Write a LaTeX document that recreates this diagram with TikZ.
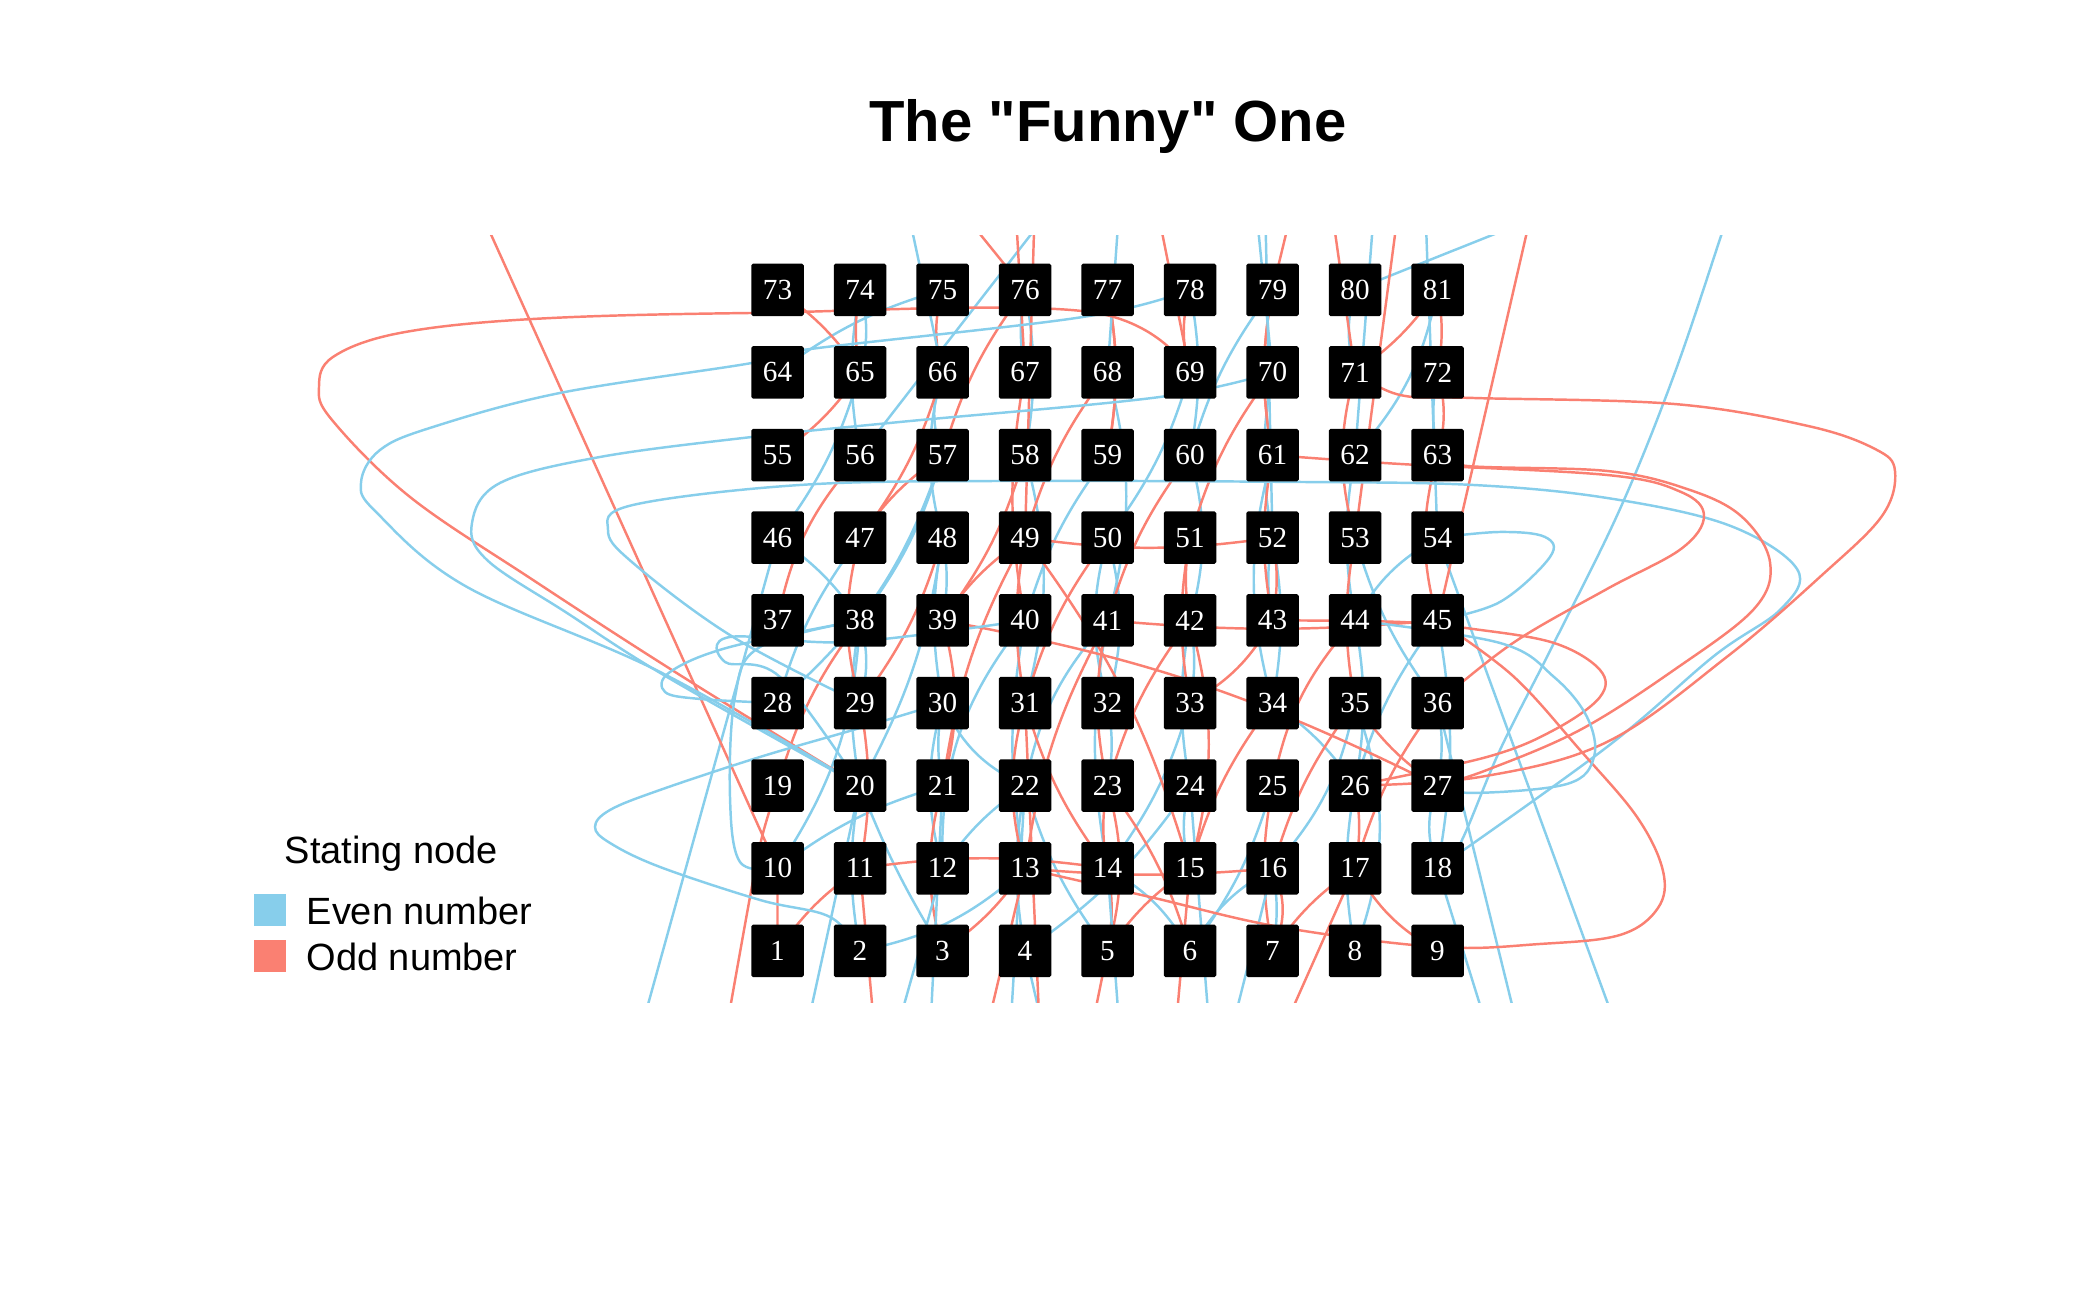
\documentclass[tikz,border=0pt]{standalone}
\usepackage{fontspec}
\setmainfont{Liberation Sans}
\newfontfamily\titlefont{Liberation Sans}[Ligatures=TeXOff]
\newfontfamily\numfont{Liberation Serif}
\usetikzlibrary{backgrounds}
\definecolor{evenblue}{HTML}{87CEEB}
\definecolor{oddred}{HTML}{FA8072}

\begin{document}
\begin{tikzpicture}[
    numbox/.style={rectangle, fill=black, rounded corners=0.5pt, minimum size=0.525cm, inner sep=0pt, text=white, font=\numfont\fontsize{8.3}{9}\selectfont},
    evenedge/.style={draw=evenblue, line width=0.7pt},
    oddedge/.style={draw=oddred, line width=0.7pt},
    keybox/.style={rectangle, minimum size=0.32cm, inner sep=0pt},
    legtext/.style={anchor=base west, inner sep=0pt, font=\fontsize{10.8}{12}\selectfont},
    loopedge/.style={smooth, tension=0.6}
]
\useasboundingbox (0,0) rectangle (21,12.97);

% grid of numbered nodes
\foreach \i in {1,...,81}{
    \pgfmathtruncatemacro{\col}{mod(\i-1,9)}
    \pgfmathtruncatemacro{\row}{div(\i-1,9)}
    \node[numbox] (n\i) at ({7.775+0.825*\col},{3.46+0.8265*\row}) {\i};
}

% title and legend
\node[anchor=base, font=\titlefont\bfseries\fontsize{16.5}{20}\selectfont] (title) at (11.08,11.55) {The "Funny" One};
\node[legtext] (legtitle) at (2.84,4.33) {Stating node};
\node[keybox, fill=evenblue] (keyeven) at (2.70,3.866) {};
\node[keybox, fill=oddred] (keyodd) at (2.70,3.406) {};
\node[legtext] (legeven) at (3.06,3.72) {Even number};
\node[legtext] (legodd) at (3.06,3.263) {Odd number};

\begin{scope}[on background layer]
\clip (0,2.94) rectangle (21,10.61);

% short edges inside the grid
\foreach \a/\b/\bd in {2/20/10, 2/13/-15, 4/22/10, 4/24/-10, 6/16/15, 6/25/-10, 8/26/10, 8/35/-20,
    10/38/-15, 10/21/10, 12/30/15, 12/40/20, 14/33/-10, 14/41/10, 16/35/-15, 16/7/10, 18/27/20,
    18/45/-10, 20/38/10, 20/48/-10, 22/41/15, 22/12/-10, 24/42/10, 24/15/-15, 26/45/10, 26/34/-10,
    28/47/10, 28/57/-15, 30/48/10, 30/22/-20, 32/50/15, 32/23/10, 34/52/-10, 34/61/15, 36/53/10,
    38/57/-10, 38/29/15, 40/59/10, 40/13/-10, 42/60/-15, 42/33/10, 44/62/10, 46/65/-10, 48/66/15,
    48/39/10, 50/69/-10, 50/32/15, 52/70/10, 52/43/-10, 56/74/10, 58/76/-10, 58/31/15, 60/79/10,
    62/81/-15, 64/75/10, 66/57/-20, 68/41/15, 72/63/-10, 74/65/15, 76/67/-10, 78/60/10, 80/71/-15,
    44/26/10, 22/5/-10, 36/27/10, 54/44/-15, 46/38/10, 30/21/-10, 14/6/15, 20/3/-5}
    \draw[evenedge] (n\a.center) to[bend left=\bd] (n\b.center);
\foreach \a/\b/\bd in {1/11/10, 3/13/-10, 3/21/15, 5/15/10, 5/23/-15, 7/17/10, 7/16/-25, 9/17/15,
    11/29/-10, 11/14/8, 13/31/15, 13/16/-5, 15/34/10, 15/42/-15, 17/36/10, 17/26/-10, 19/38/10,
    21/39/-15, 21/49/10, 23/42/10, 23/14/-10, 25/44/15, 25/7/-10, 27/35/10, 29/48/-10, 29/47/15,
    31/49/10, 31/14/-10, 33/51/10, 33/43/-15, 35/53/10, 35/16/-10, 37/56/15, 39/58/-10, 39/49/10,
    41/60/10, 41/45/-5, 43/61/10, 43/52/-10, 45/63/15, 47/66/-10, 47/57/10, 49/68/10, 49/52/-8,
    51/70/10, 51/42/-10, 53/71/15, 55/65/-10, 57/76/10, 59/77/-10, 61/79/10, 63/72/-15, 65/74/10,
    67/40/-10, 69/78/15, 71/81/-10, 73/65/10, 75/66/-15, 77/59/10, 79/61/-10, 81/72/10, 13/41/10,
    15/49/-10, 39/27/8, 41/23/-12, 31/50/10, 5/14/-10, 23/6/10}
    \draw[oddedge] (n\a.center) to[bend left=\bd] (n\b.center);

% edges leaving the panel
\foreach \a/\x/\y in {66/9.05/11.0, 56/10.6/11.0, 68/11.2/11.0, 70/12.55/11.0, 52/12.65/11.0,
    62/13.75/11.0, 54/14.25/11.0, 80/15.5/10.85, 46/6.39/2.6, 20/8.05/2.6, 12/8.95/2.6, 21/9.3/2.6,
    22/10.1/2.6, 4/10.45/2.6, 14/11.2/2.6, 24/12.1/2.6, 16/12.3/2.6, 18/14.9/2.6, 36/15.2/2.6,
    54/16.2/2.6}
    \draw[evenedge] (n\a.center) -- (\x,\y);
\foreach \a/\x/\y in {76/9.5/11.0, 67/10.15/11.0, 49/10.35/11.0, 69/11.55/11.0, 79/12.95/11.0,
    71/13.3/11.0, 53/14.0/11.0, 45/15.35/11.0, 11/8.75/2.6, 13/9.85/2.6, 31/10.4/2.6, 15/11.75/2.6,
    17/12.8/2.6, 5/10.9/2.6}
    \draw[oddedge] (n\a.center) -- (\x,\y);
\draw[oddedge] (n1.center) -- (n10.center) -- (4.65,11.2);
\draw[oddedge] plot[loopedge] coordinates {(n19.center) (7.62,4.6) (7.5,4.0) (7.25,2.6)};
\draw[evenedge] plot[loopedge] coordinates {(n18.center) (14.6,4.53) (15.0,5.47) (15.54,6.54) (16.2,7.88) (16.74,9.22) (17.21,10.61) (17.4,11.2)};

% wide loops on the left
\draw[oddedge] plot[loopedge] coordinates {(n69.center) (10.9,9.85) (7.52,9.84) (5.33,9.78) (4.0,9.64) (3.33,9.40) (3.19,9.10) (3.32,8.77) (4.10,8.0) (5.33,7.17) (6.83,6.20) (n20.center)};
\draw[evenedge] plot[loopedge] coordinates {(n78.center) (10.83,9.80) (8.03,9.47) (7.52,9.34) (5.6,9.04) (4.33,8.70) (3.8,8.47) (3.61,8.14) (3.77,7.84) (4.67,7.10) (6.6,6.25) (n20.center)};
\draw[evenedge] plot[loopedge] coordinates {(n70.center) (11.6,9.0) (9.0,8.75) (7.52,8.60) (6.0,8.40) (5.0,8.14) (4.72,7.74) (4.87,7.37) (5.67,6.84) (6.67,6.20) (n20.center)};
\draw[evenedge] plot[loopedge] coordinates {(n29.center) (7.33,6.60) (6.33,7.34) (6.08,7.67) (6.33,7.92) (8.0,8.12) (10.0,8.16) (13.0,8.15) (14.73,8.12) (16.07,7.99) (17.28,7.72) (17.97,7.28) (17.81,6.88) (17.14,6.41) (16.07,5.5) (n18.center)};
\draw[evenedge] plot[loopedge] coordinates {(n2.center) (8.3,3.80) (7.6,3.97) (6.6,4.3) (6.1,4.54) (5.95,4.70) (6.1,4.87) (6.6,5.07) (7.6,5.4) (8.6,5.69) (n30.center)};
\draw[evenedge] plot[loopedge] coordinates {(n28.center) (7.0,5.98) (6.65,6.05) (6.7,6.25) (7.3,6.5) (n38.center)};
\draw[evenedge] plot[loopedge] coordinates {(n20.center) (7.8,6.2) (7.25,6.35) (7.3,6.6) (8.5,6.55) (n40.center)};
\draw[evenedge] plot[loopedge] coordinates {(n10.center) (7.4,4.35) (7.3,5.0) (7.35,6.0) (7.6,6.5) (n38.center)};

% wide loops on the right
\draw[oddedge] plot[loopedge] coordinates {(n71.center) (14.0,9.02) (14.73,8.99) (16.74,8.93) (18.08,8.71) (18.75,8.48) (18.95,8.26) (18.82,7.81) (18.21,7.21) (17.28,6.41) (16.07,5.55) (14.8,5.2) (n26.center)};
\draw[oddedge] plot[loopedge] coordinates {(n63.center) (14.67,8.31) (16.07,8.26) (16.87,8.08) (17.41,7.81) (17.7,7.35) (17.54,6.88) (16.74,6.27) (15.8,5.67) (14.87,5.27) (n27.center)};
\draw[oddedge] plot[loopedge] coordinates {(n61.center) (14.0,8.33) (16.07,8.22) (16.81,8.05) (17.04,7.81) (16.81,7.48) (16.07,7.08) (15.13,6.54) (n36.center)};
\draw[oddedge] plot[loopedge] coordinates {(n13.center) (11.5,4.0) (12.8,3.7) (14.375,3.5) (15.4,3.53) (16.2,3.62) (16.58,3.89) (16.63,4.26) (16.37,4.8) (15.8,5.47) (15.13,6.21) (n45.center)};
\draw[oddedge] plot[loopedge] coordinates {(n43.center) (14.0,6.75) (14.73,6.68) (15.54,6.54) (16.0,6.27) (16.0,6.0) (15.54,5.67) (14.87,5.4) (n26.center)};
\draw[evenedge] plot[loopedge] coordinates {(n54.center) (15.0,7.65) (15.45,7.6) (15.5,7.4) (15.0,6.95) (n45.center)};
\draw[evenedge] plot[loopedge] coordinates {(n27.center) (14.73,5.04) (15.67,5.13) (15.94,5.4) (15.87,5.8) (15.54,6.2) (15.0,6.54) (n44.center)};
\end{scope}
\end{tikzpicture}
\end{document}
